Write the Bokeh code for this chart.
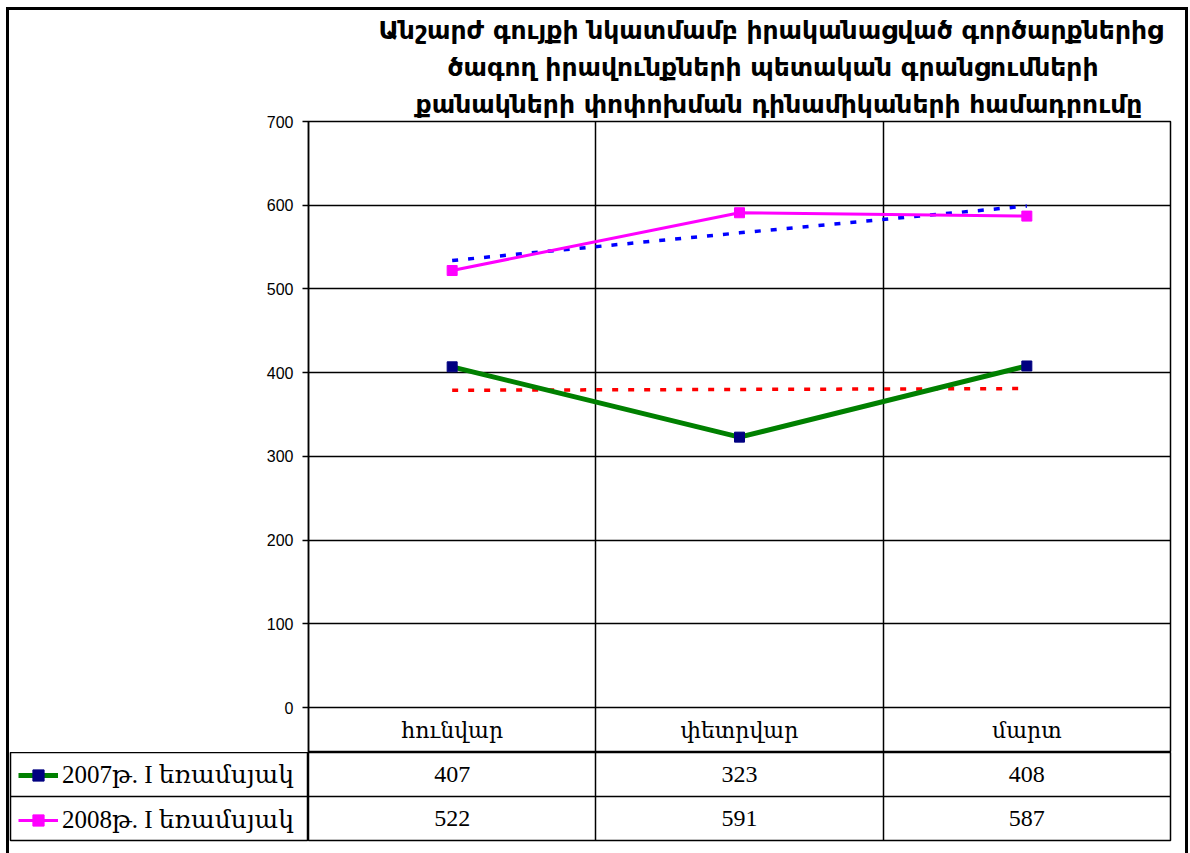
from bokeh.plotting import figure
from bokeh.models import (FactorRange, Range1d, FixedTicker, Grid, Legend,
                          LegendItem, Title)
from bokeh.layouts import column, row
from bokeh.embed import file_html
from bokeh.resources import INLINE
from bokeh.core.properties import value

# ---------------- data ----------------
TITLE_LINES = ["Անշարժ գույքի նկատմամբ իրականացված գործարքներից",
               "ծագող իրավունքների պետական գրանցումների",
               "քանակների փոփոխման դինամիկաների համադրումը"]
months = ["հունվար", "փետրվար", "մարտ"]
series_names = ["2007թ. I եռամսյակ", "2008թ. I եռամսյակ"]
values_2007 = [407, 323, 408]
values_2008 = [522, 591, 587]
trend_2007 = [379, 380, 381]
trend_2008 = [534, 567, 599]
y_ticks = [0, 100, 200, 300, 400, 500, 600, 700]
y_max = 700

# ---------------- layout constants (page px) ----------------
BORDER = 3
OFF_X = 6 + BORDER          # content starts here
OFF_Y = 7 + BORDER
CONTENT_W = 1185 - OFF_X
FRAME_L = 308
FRAME_W = 862
LEFT = FRAME_L - OFF_X
RIGHT = CONTENT_W - LEFT - FRAME_W
TOP = 120 - OFF_Y
PLOT_PX = 587
ROW_PX = 45
TABLE_H = 853 - 752
TABLE_FRAME = 88
TITLE_OFFSETS = [70, 139, 107]   # left indent of each title line from the frame

SERIF = "Liberation Serif, DejaVu Serif"
SANS = "Liberation Sans, DejaVu Sans"


def strip_grids(p):
    p.center = [r for r in p.center if not isinstance(r, Grid)]


# ---------------- main chart ----------------
x_range = FactorRange(*months)
y_range = Range1d(-y_max * ROW_PX / PLOT_PX, y_max)

T = figure(width=CONTENT_W, height=TOP + PLOT_PX + ROW_PX, x_range=x_range, y_range=y_range,
           title=None, output_backend="svg", toolbar_location=None, x_axis_location=None,
           min_border_left=LEFT, min_border_right=RIGHT, min_border_top=TOP,
           min_border_bottom=0, outline_line_color="black", outline_line_width=1.5,
           background_fill_color="white", border_fill_color="white")
strip_grids(T)
T.add_layout(Grid(dimension=1, ticker=FixedTicker(ticks=y_ticks),
                  grid_line_color="black", grid_line_width=1.5))
T.add_layout(Grid(dimension=0, ticker=FixedTicker(ticks=[1, 2]),
                  grid_line_color="black", grid_line_width=1.5))

for line, off in reversed(list(zip(TITLE_LINES, TITLE_OFFSETS))):
    T.add_layout(Title(text=line, text_font="DejaVu Sans", text_font_style="bold",
                       text_font_size="25px", align="left", offset=off, standoff=6,
                       text_color="black"), "above")

ax = T.yaxis[0]
ax.ticker = FixedTicker(ticks=y_ticks)
ax.axis_line_color = "black"
ax.axis_line_width = 1.5
ax.major_tick_line_color = "black"
ax.major_tick_line_width = 1.5
ax.major_tick_out = 6
ax.major_tick_in = 0
ax.minor_tick_line_color = None
ax.major_label_text_font = SANS
ax.major_label_text_font_size = "16px"
ax.major_label_text_color = "black"
ax.major_label_standoff = 9

# trend lines
T.line(months, trend_2007, line_color="#FF0000", line_width=3.5, line_dash="6 10")
T.line(months, trend_2008, line_color="#0000FF", line_width=3.5, line_dash="6 10")
# series
T.line(months, values_2007, line_color="#008000", line_width=5)
T.scatter(months, values_2007, marker="square", size=10,
          fill_color="#000080", line_color="#000080")
T.line(months, values_2008, line_color="#FF00FF", line_width=3)
T.scatter(months, values_2008, marker="square", size=10,
          fill_color="#FF00FF", line_color="#FF00FF")

# category row (part of the data table)
T.text(x=months, y=[y_range.start / 2] * len(months), text=months,
       text_align="center", text_baseline="middle",
       text_font=value(SERIF), text_font_size="22px", text_color="black")

# ---------------- data table ----------------
rows_range = FactorRange(*reversed(series_names))

R = figure(width=CONTENT_W - LEFT, height=TABLE_H, x_range=x_range, y_range=rows_range,
           output_backend="svg", toolbar_location=None,
           x_axis_location=None, y_axis_location=None,
           min_border_left=0, min_border_right=RIGHT, min_border_top=0,
           min_border_bottom=TABLE_H - TABLE_FRAME,
           outline_line_color="black", outline_line_width=1.5)
strip_grids(R)
R.add_layout(Grid(dimension=0, ticker=FixedTicker(ticks=[1, 2]),
                  grid_line_color="black", grid_line_width=1.5))
R.add_layout(Grid(dimension=1, ticker=FixedTicker(ticks=[1]),
                  grid_line_color="black", grid_line_width=1.5))
cell_x = months + months
cell_y = [series_names[0]] * len(months) + [series_names[1]] * len(months)
cell_t = [str(v) for v in values_2007 + values_2008]
R.text(x=cell_x, y=cell_y, text=cell_t, text_align="center", text_baseline="middle",
       text_font=value(SERIF), text_font_size="24px", text_color="black")

L = figure(width=LEFT, height=TABLE_H, x_range=Range1d(0, 1), y_range=rows_range,
           output_backend="svg", toolbar_location=None,
           x_axis_location=None, y_axis_location=None,
           min_border_left=10 - OFF_X, min_border_right=0, min_border_top=0,
           min_border_bottom=TABLE_H - TABLE_FRAME,
           outline_line_color="black", outline_line_width=1.5)
strip_grids(L)
L.add_layout(Grid(dimension=1, ticker=FixedTicker(ticks=[1]),
                  grid_line_color="black", grid_line_width=1.5))
# legend keys (points placed outside the visible x range)
l1 = L.line([-5, -4], [series_names[0]] * 2, line_color="#008000", line_width=5)
s1 = L.scatter([-5], [series_names[0]], marker="square", size=10,
               fill_color="#000080", line_color="#000080")
l2 = L.line([-5, -4], [series_names[1]] * 2, line_color="#FF00FF", line_width=3)
s2 = L.scatter([-5], [series_names[1]], marker="square", size=10,
               fill_color="#FF00FF", line_color="#FF00FF")
legend = Legend(items=[LegendItem(label=series_names[0], renderers=[l1, s1]),
                       LegendItem(label=series_names[1], renderers=[l2, s2])],
                location="top_left", orientation="vertical", margin=8, padding=0,
                spacing=16, glyph_width=40, glyph_height=28, label_height=28,
                label_standoff=4, label_text_font=SERIF, label_text_font_size="25px",
                label_text_color="black", border_line_alpha=0, background_fill_alpha=0)
L.add_layout(legend)

frame_css = {"border-left": f"{BORDER}px solid black",
             "border-top": f"{BORDER}px solid black",
             "border-right": f"{BORDER}px solid black",
             "margin-left": "6px", "margin-top": "7px"}
layout = column(T, row(L, R), styles=frame_css)
open("out.html", "w").write(file_html(layout, INLINE))
